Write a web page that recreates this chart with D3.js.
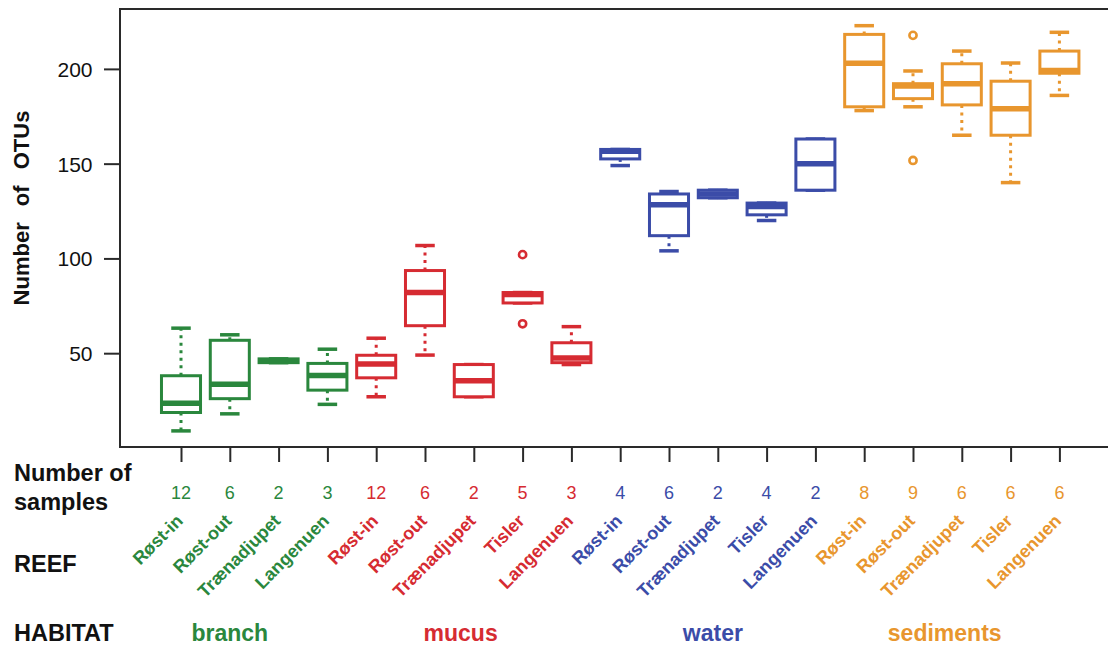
<!DOCTYPE html>
<html>
<head>
<meta charset="utf-8">
<script src="https://cdn.jsdelivr.net/npm/d3@7"></script>
<style>
  html, body { margin: 0; padding: 0; background: #fff; }
  svg { display: block; font-family: "Liberation Sans", Arial, sans-serif; }
</style>
</head>
<body>
<svg id="chart" width="1108" height="645"></svg>
<script>
// Number of OTUs per reef, grouped by habitat (box summaries)
const habitats = ["branch", "mucus", "water", "sediments"];
const habitatColors = ["#2a873d", "#d62b32", "#3b4ca8", "#e8962e"];

const boxHabitat = [0, 0, 0, 0, 1, 1, 1, 1, 1, 2, 2, 2, 2, 2, 3, 3, 3, 3, 3];
const reefs = [
  "Røst-in", "Røst-out", "Trænadjupet", "Langenuen",
  "Røst-in", "Røst-out", "Trænadjupet", "Tisler", "Langenuen",
  "Røst-in", "Røst-out", "Trænadjupet", "Tisler", "Langenuen",
  "Røst-in", "Røst-out", "Trænadjupet", "Tisler", "Langenuen"
];
const sampleCounts = [12, 6, 2, 3, 12, 6, 2, 5, 3, 4, 6, 2, 4, 2, 8, 9, 6, 6, 6];

const whiskerLow  = [9, 18, 45, 23, 27, 49, 27, 76.5, 44, 149, 104, 132, 120, 136, 178, 180, 165, 140, 186];
const quartile1   = [18.7, 26, 45, 30.5, 37, 64.5, 27, 76.5, 45, 152.5, 112, 132, 123, 136, 180, 184.3, 181, 165, 197.7];
const medians     = [23.6, 33.6, 46, 38.2, 44.3, 82, 35.5, 81, 47.5, 156.5, 128.3, 134, 127.4, 150, 203, 191, 192.2, 179, 199.2];
const quartile3   = [38.1, 56.8, 47, 44.6, 48.9, 93.6, 44, 82, 55.5, 157.5, 134, 136, 129.2, 163, 218.2, 192.2, 202.7, 193.5, 209.4];
const whiskerHigh = [63.2, 59.7, 47, 52.1, 57.9, 106.8, 44, 82, 64, 157.5, 135.3, 136, 129.2, 163, 222.8, 198.9, 209.4, 203.1, 219.3];
const outliers = [[], [], [], [], [], [], [], [102, 65.5], [], [], [], [], [], [], [], [217.7, 151.7], [], [], []];

const yTicks = [50, 100, 150, 200];

// where each habitat name sits along the box axis
const habitatLabelAt = [2, 6.73, 11.9, 16.65];

const svg = d3.select("#chart");
const font = '"Liberation Sans", Arial, sans-serif';

// scales
const x = d3.scaleLinear().domain([1, 19]).range([181, 1059.4]);
const y = d3.scaleLinear().domain([0.5, 231.6]).range([447, 9]);
const color = i => habitatColors[boxHabitat[i]];

const frameLeft = x(-0.25), frameRight = x(20.25), frameTop = y(231.6), frameBottom = y(0.5);
const boxHalf = x(1.4) - x(1);
const capHalf = x(1.2) - x(1);

// plot frame
svg.append("rect")
  .attr("x", frameLeft).attr("y", frameTop)
  .attr("width", frameRight - frameLeft).attr("height", frameBottom - frameTop)
  .attr("fill", "none").attr("stroke", "#2a2a2a").attr("stroke-width", 2);

// y axis
const yAxis = d3.axisLeft(y).tickValues(yTicks).tickSize(16);
const gy = svg.append("g").attr("transform", `translate(${frameLeft},0)`).call(yAxis);
gy.select(".domain").remove();
gy.selectAll(".tick line").attr("stroke", "#2a2a2a").attr("stroke-width", 2);
gy.selectAll(".tick text")
  .attr("font-family", font).attr("font-size", 21).attr("fill", "#111")
  .attr("x", -27.5).attr("dy", "0.35em").attr("text-anchor", "end");

// x axis ticks
const xAxis = d3.axisBottom(x).tickValues(d3.range(1, 20)).tickSize(15).tickFormat("");
const gx = svg.append("g").attr("transform", `translate(0,${frameBottom})`).call(xAxis);
gx.select(".domain").remove();
gx.selectAll(".tick line").attr("stroke", "#2a2a2a").attr("stroke-width", 2);

// y axis title
svg.append("text")
  .attr("transform", `translate(28.5,208) rotate(-90)`)
  .attr("text-anchor", "middle")
  .attr("font-family", font).attr("font-size", 22).attr("font-weight", "bold")
  .attr("word-spacing", 10)
  .attr("fill", "#111")
  .text("Number of OTUs");

// boxes
const boxes = svg.append("g");
d3.range(reefs.length).forEach(i => {
  const cx = x(i + 1);
  const c = color(i);
  const g = boxes.append("g").attr("stroke", c).attr("fill", "none");

  // dotted whiskers
  g.append("line").attr("x1", cx).attr("x2", cx)
    .attr("y1", y(quartile3[i])).attr("y2", y(whiskerHigh[i]))
    .attr("stroke-width", 3).attr("stroke-dasharray", "3,4.5");
  g.append("line").attr("x1", cx).attr("x2", cx)
    .attr("y1", y(quartile1[i])).attr("y2", y(whiskerLow[i]))
    .attr("stroke-width", 3).attr("stroke-dasharray", "3,4.5");

  // staples
  [whiskerLow[i], whiskerHigh[i]].forEach(v => {
    g.append("line").attr("x1", cx - capHalf).attr("x2", cx + capHalf)
      .attr("y1", y(v)).attr("y2", y(v)).attr("stroke-width", 3.5);
  });

  // box
  g.append("rect")
    .attr("x", cx - boxHalf).attr("width", 2 * boxHalf)
    .attr("y", y(quartile3[i])).attr("height", Math.max(0.01, y(quartile1[i]) - y(quartile3[i])))
    .attr("fill", "#fff").attr("stroke-width", 3);

  // median
  g.append("line").attr("x1", cx - boxHalf).attr("x2", cx + boxHalf)
    .attr("y1", y(medians[i])).attr("y2", y(medians[i])).attr("stroke-width", 5.5);

  // outliers
  outliers[i].forEach(v => {
    g.append("circle").attr("cx", cx).attr("cy", y(v)).attr("r", 3.6)
      .attr("fill", "#fff").attr("stroke-width", 2.6);
  });
});

// left-side row headings
const heading = (txt, yy) => svg.append("text")
  .attr("x", 14).attr("y", yy)
  .attr("font-family", font).attr("font-size", 23.5).attr("font-weight", "bold")
  .attr("fill", "#111").text(txt);
heading("Number of", 481);
heading("samples", 510);
heading("REEF", 572);
heading("HABITAT", 641);

// sample counts
svg.append("g").selectAll("text").data(sampleCounts).join("text")
  .attr("x", (d, i) => x(i + 1)).attr("y", 499)
  .attr("text-anchor", "middle")
  .attr("font-family", font).attr("font-size", 18)
  .attr("fill", (d, i) => color(i))
  .text(d => d);

// reef names, slanted
svg.append("g").selectAll("text").data(reefs).join("text")
  .attr("transform", (d, i) => `translate(${x(i + 1) + 3},522) rotate(-45)`)
  .attr("text-anchor", "end")
  .attr("font-family", font).attr("font-size", 18).attr("font-weight", "bold")
  .attr("fill", (d, i) => color(i))
  .text(d => d);

// habitat names
habitats.forEach((h, k) => {
  svg.append("text")
    .attr("x", x(habitatLabelAt[k])).attr("y", 641)
    .attr("text-anchor", "middle")
    .attr("font-family", font).attr("font-size", 23).attr("font-weight", "bold")
    .attr("fill", habitatColors[k])
    .text(h);
});
</script>
</body>
</html>
